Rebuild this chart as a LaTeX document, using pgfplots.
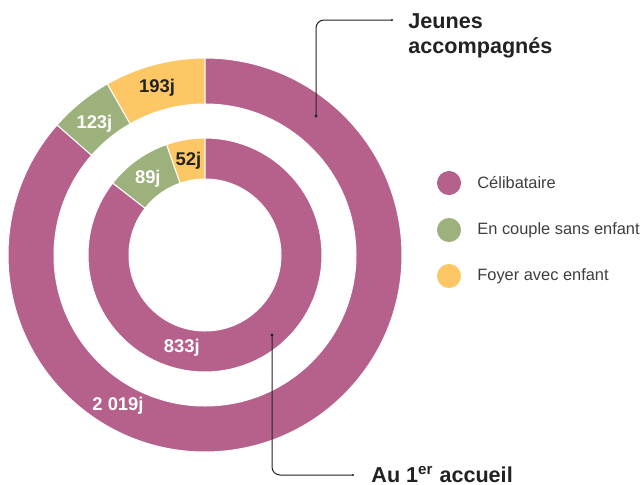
\documentclass[border=0pt]{standalone}
\usepackage{fontspec}
\setmainfont{Liberation Sans}
\usepackage{pgfplots}
\usepackage{pgfplotstable}
\pgfplotsset{compat=1.18}

\definecolor{cel}{HTML}{B6608C}
\definecolor{cou}{HTML}{9CB17B}
\definecolor{foy}{HTML}{FEC765}
\definecolor{txt}{HTML}{222222}
\definecolor{leg}{HTML}{3E3E3E}

% durees (jours) par situation : anneau exterieur = jeunes accompagnes, interieur = 1er accueil
\pgfplotstableread{
cat outer inner
cel 2019 833
cou 123 89
foy 193 52
}\data

\pgfplotstablegetelem{0}{outer}\of\data \let\oCel\pgfplotsretval
\pgfplotstablegetelem{1}{outer}\of\data \let\oCou\pgfplotsretval
\pgfplotstablegetelem{2}{outer}\of\data \let\oFoy\pgfplotsretval
\pgfplotstablegetelem{0}{inner}\of\data \let\iCel\pgfplotsretval
\pgfplotstablegetelem{1}{inner}\of\data \let\iCou\pgfplotsretval
\pgfplotstablegetelem{2}{inner}\of\data \let\iFoy\pgfplotsretval

% angles, counterclockwise from the top
\pgfmathsetmacro\oT{\oCel+\oCou+\oFoy}
\pgfmathsetmacro\oA{90+\oFoy/\oT*360}
\pgfmathsetmacro\oB{\oA+\oCou/\oT*360}
\pgfmathsetmacro\iT{\iCel+\iCou+\iFoy}
\pgfmathsetmacro\iA{90+\iFoy/\iT*360}
\pgfmathsetmacro\iB{\iA+\iCou/\iT*360}

% #1 inner radius, #2 outer radius, #3 start, #4 end, #5 colour
\newcommand{\sector}[5]{%
  \fill[#5, draw=white, line width=0.5pt]
    ([shift={(#3:#2)}]axis cs:205,229) arc[start angle=#3, end angle=#4, radius=#2]
    -- ([shift={(#4:#1)}]axis cs:205,229) arc[start angle=#4, end angle=#3, radius=#1]
    -- cycle;}

\begin{document}
\begin{tikzpicture}
\begin{axis}[x=0.5pt, y=0.5pt, xmin=0, xmax=642, ymin=0, ymax=484,
  hide axis, ticks=none, clip=false]
\coordinate (ll) at (axis cs:0,0);
\coordinate (ur) at (axis cs:642,484);

\sector{75.5pt}{98.5pt}{90}{\oA}{foy}
\sector{75.5pt}{98.5pt}{\oA}{\oB}{cou}
\sector{75.5pt}{98.5pt}{\oB}{450}{cel}
\sector{38pt}{58.5pt}{90}{\iA}{foy}
\sector{38pt}{58.5pt}{\iA}{\iB}{cou}
\sector{38pt}{58.5pt}{\iB}{450}{cel}

\begin{scope}[font=\bfseries\fontsize{9.2}{10}\selectfont]
\node[txt] at ([shift={(106:87pt)}]axis cs:205,229) {193j};
\node[white] at ([shift={(130:86pt)}]axis cs:205,229) {123j};
\node[white] at ([shift={(240:87pt)}]axis cs:205,229) {2 019j};
\node[txt] at ([shift={(100:48pt)}]axis cs:205,229) {52j};
\node[white] at ([shift={(127:47.5pt)}]axis cs:205,229) {89j};
\node[white] at ([shift={(256:48pt)}]axis cs:205,229) {833j};
\end{scope}

% legend
\addplot[only marks, mark=*, mark size=5.8pt, color=cel] coordinates {(449,301)};
\addplot[only marks, mark=*, mark size=5.8pt, color=cou] coordinates {(449,254)};
\addplot[only marks, mark=*, mark size=5.8pt, color=foy] coordinates {(449,208)};
\begin{scope}[font=\fontsize{8.2}{9}\selectfont, text=leg]
\node[anchor=west, inner sep=0] at (axis cs:477,301) {Célibataire};
\node[anchor=west, inner sep=0] at (axis cs:477,254) {En couple sans enfant};
\node[anchor=west, inner sep=0] at (axis cs:477,208) {Foyer avec enfant};
\end{scope}

% annotations
\draw[txt, line width=0.5pt, rounded corners=4pt] (axis cs:392,464) -- (axis cs:316,464) -- (axis cs:316,368);
\fill[txt] (axis cs:316,368) circle[radius=0.8pt];
\fill[txt] (axis cs:392,464) circle[radius=0.6pt];
\draw[txt, line width=0.5pt, rounded corners=4pt] (axis cs:272,149) -- (axis cs:272,9) -- (axis cs:353,9);
\fill[txt] (axis cs:272,149) circle[radius=0.8pt];
\fill[txt] (axis cs:353,9) circle[radius=0.6pt];

\begin{scope}[font=\bfseries\fontsize{10.8}{12}\selectfont, text=txt]
\node[anchor=base west, inner sep=0] at (axis cs:408,456) {Jeunes};
\node[anchor=base west, inner sep=0] at (axis cs:408,431) {accompagnés};
\node[anchor=base west, inner sep=0] at (axis cs:371,2) {Au 1\textsuperscript{er} accueil};
\end{scope}
\end{axis}
\pgfresetboundingbox
\useasboundingbox (ll) rectangle (ur);
\end{tikzpicture}
\end{document}
